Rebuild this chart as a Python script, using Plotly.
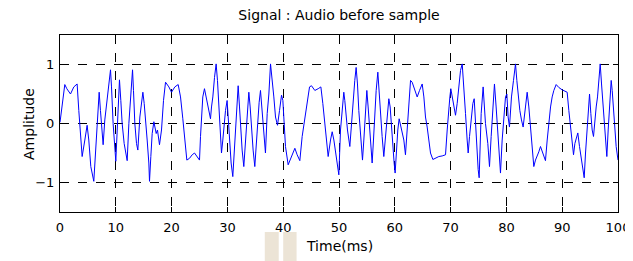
import plotly.graph_objects as go

# Traced waveform (time in ms, amplitude)
time_ms = [
    0.00, 0.27, 0.50, 0.86, 1.22, 1.88, 2.48, 3.07, 3.37, 3.67, 3.97, 4.45, 4.86, 5.16, 5.52, 6.06,
    6.36, 6.60, 7.02, 7.25, 7.73, 8.03, 8.33, 8.63, 9.05, 9.23, 9.52, 10.00, 10.24, 10.66, 10.90,
    11.14, 11.50,
    11.74, 12.04, 12.34, 12.58, 12.82, 13.00, 13.17, 13.41, 13.71, 13.95, 14.31, 14.85, 15.09,
    15.32, 15.62, 15.92, 16.04, 16.28, 16.52, 16.82, 17.24, 17.47, 17.83, 18.19, 18.55, 18.91,
    19.51, 19.98, 20.58, 21.18, 21.60, 22.01, 22.37, 22.73, 23.21, 23.69, 24.11,
    24.28, 24.76, 25.00, 25.18, 25.36, 25.59, 25.89, 26.19, 26.49, 26.97, 27.15, 27.39, 27.69,
    27.98, 28.22, 28.46, 28.70, 28.94, 29.18, 29.42, 29.66, 29.95, 30.19, 30.43, 30.67, 30.97,
    31.21, 31.45, 31.69, 31.93, 32.17, 32.40, 32.64, 32.94, 33.24, 33.54, 33.84, 34.08, 34.32,
    34.61, 34.91, 35.21, 35.45, 35.69, 35.93, 36.23, 36.53, 36.82,
    37.13, 37.43, 37.73, 38.02, 38.32, 38.62, 38.98, 39.34, 39.70, 39.94, 40.18, 40.41, 40.89,
    41.31, 41.73, 42.09, 42.50, 42.98, 43.40, 43.88, 44.30, 44.72, 45.07, 45.67, 46.27, 46.75,
    47.10, 47.46, 47.76, 48.06, 48.48, 48.78, 49.08, 49.37,
    49.67, 49.97, 50.27, 50.56, 50.86, 51.04, 51.28, 51.52, 51.94, 52.18, 52.48, 52.83, 53.07,
    53.31, 53.55, 53.79, 54.03, 54.21, 54.45, 54.75, 54.99, 55.22, 55.46, 55.70, 55.94, 56.18,
    56.42, 56.66, 56.96, 57.20, 57.43, 57.73, 58.03, 58.33, 58.63, 58.93, 59.17, 59.41, 59.64,
    59.88, 60.06, 60.30, 60.54, 60.78, 61.08, 61.32, 61.62, 61.91,
    62.22, 62.52, 62.82, 63.11, 63.59, 64.01, 64.43, 64.91, 65.21, 65.50, 65.80, 66.10, 66.40,
    66.82, 67.30, 67.89, 68.49, 69.09, 69.39, 69.69, 69.87, 70.04, 70.28, 70.58, 70.88, 71.18,
    71.48, 71.78, 72.08, 72.37, 72.67, 72.97, 73.15, 73.39, 73.69, 73.99, 74.23,
    74.46, 74.70, 74.94, 75.12, 75.30, 75.48, 75.83, 76.25, 76.67, 76.97, 77.27, 77.57, 77.86,
    78.16, 78.46, 78.76, 78.94, 79.24, 79.54, 79.84, 80.08, 80.31, 80.55, 80.91, 81.27, 81.63,
    81.87, 82.11, 82.41, 82.70, 83.00, 83.42, 83.72, 84.02, 84.32, 84.62, 84.91, 85.21, 85.51,
    85.81, 86.11, 86.41, 86.71, 87.00,
    87.31, 87.61, 87.91, 88.20, 88.50, 88.92, 89.40, 90.00, 90.59, 90.89, 91.19, 91.49, 91.79,
    92.03, 92.27, 92.57, 92.80, 93.10, 93.40, 93.70, 93.94, 94.18, 94.42, 94.66, 94.90, 95.13,
    95.37, 95.61, 95.85, 96.09, 96.33, 96.57, 96.81, 97.05, 97.28, 97.52, 97.76, 98.00, 98.24,
    98.48, 98.78, 98.96, 99.20, 99.43, 99.67, 100.00,
]
amplitude = [
    0.02, 0.22, 0.42, 0.66, 0.59, 0.50, 0.62, 0.67, 0.22, -0.11, -0.56, -0.28, -0.03, -0.28, -0.73, -0.98,
    -0.45, -0.06, 0.53, 0.22, -0.36, 0.06, 0.34, 0.56, 0.91, 0.62, 0.00, -0.64, -0.11, 0.74, 0.39,
    0.00, -0.34,
    -0.50, -0.63, 0.00, 0.34, 0.73, 0.91, 0.56, 0.00, -0.34, -0.45, 0.11, 0.53, 0.34,
    0.00, -0.28, -0.67, -0.98, -0.56, -0.17, 0.03, -0.17, -0.11, -0.36, -0.11, 0.39, 0.70,
    0.62, 0.53, 0.62, 0.66, 0.45, 0.08, -0.28, -0.62, -0.59, -0.53, -0.50,
    -0.52, -0.59, -0.62, -0.22, 0.11, 0.45, 0.59, 0.45, 0.28, 0.08, 0.28, 0.45, 0.78,
    1.01, 0.73, 0.28, -0.17, -0.50, -0.28, 0.00, 0.22, 0.39, 0.00, -0.34, -0.67, -0.90,
    -0.56, -0.11, 0.28, 0.64, 0.28, -0.11, -0.45, -0.73, -0.34, 0.11, 0.53, 0.28, -0.11,
    -0.45, -0.73, -0.28, 0.11, 0.36, 0.56, 0.22, -0.11, -0.50,
    0.17, 0.50, 1.01, 0.78, 0.45, 0.11, -0.03, 0.22, 0.48, 0.39, 0.00, -0.39, -0.70,
    -0.59, -0.48, -0.42, -0.53, -0.63, -0.22, 0.11, 0.42, 0.62, 0.64, 0.56, 0.59, 0.62,
    0.34, 0.00, -0.28, -0.56, -0.28, -0.14, -0.28, -0.50,
    -0.67, -0.87, -0.11, 0.28, 0.53, 0.39, 0.06, -0.11, -0.39, -0.06, 0.34, 0.73, 0.95,
    0.67, 0.22, -0.11, -0.45, -0.62, -0.28, 0.17, 0.56, 0.28, 0.00, -0.34, -0.67, -0.28,
    0.17, 0.56, 0.87, 0.50, 0.11, -0.22, -0.56, -0.22, 0.11, 0.42, 0.28, -0.11, -0.39,
    -0.67, -0.84, -0.39, -0.11, 0.08, -0.06, -0.17, -0.28, -0.53,
    -0.11, 0.28, 0.73, 0.70, 0.56, 0.45, 0.56, 0.67, 0.45, 0.11, -0.06, -0.28, -0.50,
    -0.61, -0.59, -0.56, -0.55, -0.53, -0.11, 0.34, 0.45, 0.59, 0.45, 0.28, 0.14, 0.34,
    0.67, 0.90, 1.01, 0.67, 0.17, -0.28, -0.50, -0.22, 0.11, 0.34, 0.42,
    0.00, -0.39, -0.78, -0.92, -0.28, 0.17, 0.62, 0.00, -0.34, -0.73, -0.22, 0.17, 0.67,
    0.28, -0.11, -0.50, -0.84, -0.28, 0.11, 0.45, 0.50, 0.11, -0.06, 0.45, 0.73, 1.01,
    0.73, 0.45, 0.22, 0.06, -0.06, 0.28, 0.53, 0.28, -0.11, -0.45, -0.73, -0.62, -0.56,
    -0.48, -0.39, -0.46, -0.55, -0.63,
    -0.28, 0.06, 0.28, 0.45, 0.56, 0.66, 0.61, 0.57, 0.54, 0.53, 0.22, -0.06, -0.34,
    -0.53, -0.34, -0.22, -0.16, -0.39, -0.56, -0.78, -0.92, -0.50, -0.11, 0.17, 0.50, 0.17,
    -0.11, -0.22, 0.06, 0.28, 0.45, 0.78, 1.01, 0.67, 0.34, 0.00, -0.28, -0.56, -0.11,
    0.28, 0.73, 0.56, 0.17, -0.11, -0.39, -0.62,
]

x_ticks = [0, 10, 20, 30, 40, 50, 60, 70, 80, 90, 100]
y_ticks = [-1, 0, 1]

FONT = "DejaVu Sans, Arial, sans-serif"

fig = go.Figure()
fig.add_trace(go.Scatter(
    x=time_ms, y=amplitude, mode="lines",
    line=dict(color="#0000ff", width=1),
    showlegend=False, hoverinfo="skip",
))

axis_common = dict(
    showline=True, linecolor="black", linewidth=1, mirror="ticks",
    ticks="inside", ticklen=5, tickcolor="black", tickwidth=1,
    showgrid=True, gridcolor="black", gridwidth=1, griddash="dash",
    zeroline=False, automargin=False,
    tickfont=dict(family=FONT, size=13, color="black"),
)

# The page body has an 8px default margin, so the figure is sized 8px smaller
fig.update_layout(
    width=625, height=253,
    margin=dict(l=52, r=15, t=27, b=49, autoexpand=False),
    paper_bgcolor="white", plot_bgcolor="white",
    font=dict(family=FONT, size=13, color="black"),
    title=dict(text="Signal : Audio before sample", x=0.5, xref="paper",
               y=1 - 7.5 / 253, yref="container", yanchor="middle",
               font=dict(family=FONT, size=14, color="black")),
    xaxis=dict(range=[0, 100], tickvals=x_ticks, ticklabelstandoff=3, **axis_common),
    yaxis=dict(range=[-1.5, 1.5], tickvals=y_ticks, ticklabelstandoff=2, **axis_common),
    annotations=[
        dict(text="Time(ms)", xref="paper", yref="paper", x=0.5, y=-0.192,
             xanchor="center", yanchor="middle", showarrow=False,
             font=dict(family=FONT, size=14, color="black")),
        dict(text="Amplitude", xref="paper", yref="paper", x=-0.0565, y=0.5,
             xanchor="center", yanchor="middle", textangle=-90, showarrow=False,
             font=dict(family=FONT, size=14, color="black")),
    ],
    shapes=[
        dict(type="rect", xref="paper", yref="paper", x0=0.367, x1=0.392,
             y0=-0.279, y1=-0.113, fillcolor="#ece4d6", line=dict(width=0), layer="below"),
        dict(type="rect", xref="paper", yref="paper", x0=0.400, x1=0.424,
             y0=-0.279, y1=-0.113, fillcolor="#ece4d6", line=dict(width=0), layer="below"),
    ],
)

fig.write_html("out.html")
